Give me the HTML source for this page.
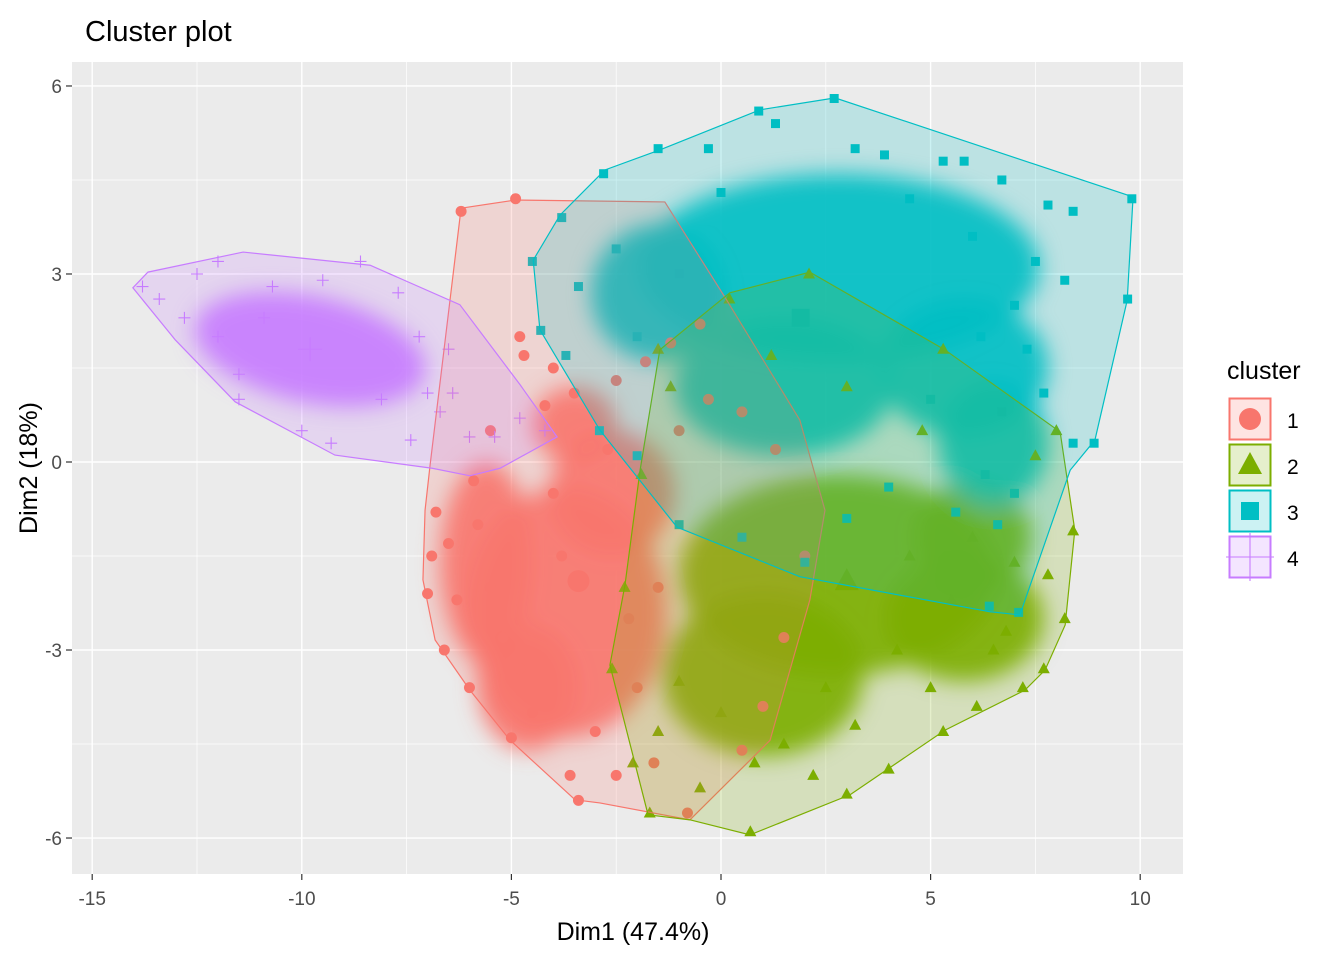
<!DOCTYPE html>
<html><head><meta charset="utf-8">
<style>
html,body{margin:0;padding:0;background:#fff;}
svg{display:block;font-family:"Liberation Sans",Arial,sans-serif;}
</style></head>
<body>
<svg id="chart" width="1344" height="960" viewBox="0 0 1344 960">
<defs><filter id="blur" x="-50%" y="-50%" width="200%" height="200%"><feGaussianBlur stdDeviation="11"/></filter></defs>
<text x="85" y="41" font-size="29" fill="#000">Cluster plot</text>
<rect x="72" y="62" width="1111" height="812" fill="#EBEBEB"/>
<g id="grid"></g>
<g id="cores" filter="url(#blur)"></g>
<g id="points"></g>
<g id="hulls"></g>
<g id="axes"></g>
<text x="633" y="940" font-size="25" text-anchor="middle">Dim1 (47.4%)</text>
<text transform="translate(37,468) rotate(-90)" font-size="25" text-anchor="middle">Dim2 (18%)</text>
<g id="legend">
<text x="1227" y="379" font-size="25">cluster</text>
</g>
<script>
const xTicks=[-15,-10,-5,0,5,10];
const yTicks=[-6,-3,0,3,6];
const clusterNames=["1","2","3","4"];
const colors=["#F8766D","#7CAE00","#00BFC4","#C77CFF"];
const hull1=[[-6.2,4.05],[-4.91,4.18],[-1.34,4.15],[0.14,2.58],[1.88,0.67],[2.48,-0.77],[2.12,-2.2],[1.17,-4.44],[-0.74,-5.71],[-2.89,-5.44],[-3.48,-5.39],[-5.03,-4.44],[-5.99,-3.64],[-6.82,-2.84],[-7.11,-1.88],[-7.06,-0.77],[-6.94,-0.05]];
const hull2=[[-1.46,1.79],[0.21,2.7],[2.12,3.03],[5.34,1.79],[8.09,0.48],[8.44,-1.09],[8.21,-2.6],[7.73,-3.32],[7.25,-3.64],[5.34,-4.28],[3.08,-5.31],[0.69,-5.95],[-0.74,-5.71],[-1.74,-5.63],[-2.65,-3.24],[-2.29,-1.96],[-1.93,-0.13]];
const hull3=[[-4.48,3.22],[-3.84,3.94],[-2.77,4.66],[-1.46,4.98],[0.93,5.62],[2.72,5.81],[9.83,4.23],[9.69,2.58],[8.92,0.35],[8.33,-0.13],[7.13,-2.44],[6.42,-2.39],[1.88,-1.83],[-1.05,-1.04],[-2.89,0.51],[-4.32,2.11]];
const hull4=[[-14.03,2.78],[-13.67,3.03],[-11.4,3.35],[-8.37,3.14],[-6.23,2.51],[-4.79,1.23],[-3.91,0.4],[-5.27,-0.1],[-5.99,-0.22],[-6.89,-0.1],[-9.21,0.11],[-11.59,0.96],[-13.02,1.95]];
const pts1=[[-6.2,4.0],[-4.9,4.2],[-4.8,2.0],[-4.7,1.7],[-4.0,1.5],[-3.5,1.1],[-2.5,1.3],[-1.8,1.6],[-1.2,1.9],[-0.5,2.2],[-4.2,0.9],[-5.5,0.5],[-6.8,-0.8],[-6.9,-1.5],[-7.0,-2.1],[-6.6,-3.0],[-6.0,-3.6],[-5.0,-4.4],[-3.6,-5.0],[-3.4,-5.4],[-2.5,-5.0],[-1.6,-4.8],[-0.8,-5.6],[0.5,-4.6],[1.0,-3.9],[1.5,-2.8],[2.0,-1.5],[1.3,0.2],[0.5,0.8],[-0.3,1.0],[-5.8,-1.0],[-6.3,-2.2],[-4.5,-4.0],[-2.0,-3.6],[-5.2,-2.8],[-3.0,-1.0],[-4.0,-0.5],[-1.5,-2.0],[-6.5,-1.3],[-5.5,-2.0],[-4.8,-3.3],[-3.0,-4.3],[-2.2,-2.5],[-3.8,-1.5],[-5.9,-0.3],[-2.7,0.2],[-1.0,0.5]];
const pts2=[[-1.5,1.8],[0.2,2.6],[2.1,3.0],[5.3,1.8],[8.0,0.5],[8.4,-1.1],[8.2,-2.5],[7.7,-3.3],[7.2,-3.6],[6.1,-3.9],[5.3,-4.3],[4.0,-4.9],[3.0,-5.3],[2.2,-5.0],[0.7,-5.9],[-0.5,-5.2],[-1.7,-5.6],[-2.1,-4.8],[-2.6,-3.3],[-2.3,-2.0],[-1.9,-0.2],[-1.2,1.2],[1.2,1.7],[3.0,1.2],[4.8,0.5],[7.5,0.1],[7.8,-1.8],[6.8,-2.7],[5.0,-3.6],[3.2,-4.2],[1.5,-4.5],[0.0,-4.0],[-1.0,-3.5],[4.5,-1.5],[6.0,-1.2],[6.5,-3.0],[4.2,-3.0],[2.5,-3.6],[0.8,-4.8],[-1.5,-4.3],[5.5,-2.2],[7.0,-1.6]];
const pts3=[[-4.5,3.2],[-3.8,3.9],[-2.8,4.6],[-1.5,5.0],[-0.3,5.0],[0.9,5.6],[1.3,5.4],[2.7,5.8],[3.2,5.0],[3.9,4.9],[5.3,4.8],[5.8,4.8],[6.7,4.5],[7.8,4.1],[8.4,4.0],[9.8,4.2],[9.7,2.6],[8.9,0.3],[8.4,0.3],[7.7,1.1],[7.3,1.8],[6.7,0.8],[6.3,-0.2],[6.6,-1.0],[7.1,-2.4],[6.4,-2.3],[5.6,-0.8],[7.0,-0.5],[4.0,-0.4],[3.0,-0.9],[2.0,-1.6],[0.5,-1.2],[-1.0,-1.0],[-2.0,0.1],[-2.9,0.5],[-3.7,1.7],[-4.3,2.1],[-3.4,2.8],[-2.5,3.4],[8.2,2.9],[7.5,3.2],[6.2,2.0],[5.0,1.0],[1.8,2.3],[6.0,3.6],[7.0,2.5],[-1.0,3.0],[-2.0,2.0],[4.5,4.2],[0.0,4.3]];
const pts4=[[-13.8,2.8],[-13.4,2.6],[-12.8,2.3],[-12.5,3.0],[-12.0,3.2],[-11.5,1.0],[-10.9,2.3],[-10.0,0.5],[-9.3,0.3],[-8.6,3.2],[-7.7,2.7],[-7.2,2.0],[-7.0,1.1],[-6.7,0.8],[-6.4,1.1],[-6.0,0.4],[-5.4,0.4],[-4.8,0.7],[-4.2,0.5],[-6.5,1.8],[-11.5,1.4],[-10.7,2.8],[-8.1,1.0],[-7.4,0.35],[-12.0,2.0],[-9.5,2.9]];
const core1=[[-3.7,-2.4,2.4,2.0,0],[-2.6,-0.5,1.5,1.0,0],[-5.6,-1.6,1.1,1.6,0],[-4.6,-3.6,1.2,1.0,0],[-3.5,0.6,1.0,0.6,0]];
const core2=[[2.8,-1.8,3.8,1.6,0],[1.0,-3.4,2.4,1.3,0],[5.8,-2.5,1.9,1.0,0],[6.0,-1.2,1.4,0.9,0]];
const core3=[[2.8,3.1,4.8,1.5,0],[1.5,1.2,2.6,1.1,0],[5.8,1.5,2.0,1.1,0],[-1.5,2.7,1.6,1.1,0],[6.5,0.3,1.3,1.0,0]];
const core4=[[-9.8,1.8,2.8,0.85,12]];
const centers=[[-3.4,-1.9],[3.0,-1.9],[1.9,2.3],[-9.8,1.8]];

const NS="http://www.w3.org/2000/svg";
const X0=721,XS=41.92,Y0=462,YS=62.67;
function sx(v){return X0+v*XS;}
function sy(v){return Y0-v*YS;}
function mk(tag,attrs,parent){const e=document.createElementNS(NS,tag);for(const k in attrs)e.setAttribute(k,attrs[k]);parent.appendChild(e);return e;}
const grid=document.getElementById('grid');
for(let v=-17.5;v<=12.5;v+=2.5){const px=sx(v);if(px<72||px>1183)continue;const major=Number.isInteger(v/5);
const l=mk('line',{x1:px,x2:px,y1:62,y2:874,stroke:'#fff','stroke-width':major?1.4:0.7},grid);

}
for(let v=-7.5;v<=7.5;v+=1.5){const py=sy(v);if(py<62||py>874)continue;const major=Math.abs(v/3-Math.round(v/3))<1e-9;
const l=mk('line',{x1:72,x2:1183,y1:py,y2:py,stroke:'#fff','stroke-width':major?1.4:0.7},grid);

}
const axes=document.getElementById('axes');
xTicks.forEach(t=>{const px=sx(t);
const l=mk('line',{x1:px,x2:px,y1:874,y2:880,stroke:'#333','stroke-width':1.2},axes);


const tx=mk('text',{x:px,y:905,'font-size':19,'text-anchor':'middle',fill:'#4D4D4D'},axes);tx.textContent=t;

});
yTicks.forEach(t=>{const py=sy(t);
const l=mk('line',{x1:66,x2:72,y1:py,y2:py,stroke:'#333','stroke-width':1.2},axes);


const tx=mk('text',{x:62,y:py+7,'font-size':19,'text-anchor':'end',fill:'#4D4D4D'},axes);tx.textContent=t;

});
const cores=document.getElementById('cores');
[core1,core2,core3,core4].forEach((cs,i)=>cs.forEach(c=>{
const e=mk('ellipse',{cx:sx(c[0]),cy:sy(c[1]),rx:c[2]*XS,ry:c[3]*YS,fill:colors[i],opacity:0.9,transform:`rotate(${c[4]} ${sx(c[0])} ${sy(c[1])})`},cores);

}));
const pg=document.getElementById('points');
function marker(i,x,y,s,parent){let e;
if(i===0)e=mk('circle',{cx:x,cy:y,r:s*0.55,fill:colors[0]},parent);
else if(i===1)e=mk('polygon',{points:`${x},${y-s*0.65} ${x-s*0.6},${y+s*0.45} ${x+s*0.6},${y+s*0.45}`,fill:colors[1]},parent);
else if(i===2)e=mk('rect',{x:x-s*0.45,y:y-s*0.45,width:s*0.9,height:s*0.9,fill:colors[2]},parent);
else e=mk('path',{d:`M${x-s*0.6},${y}H${x+s*0.6}M${x},${y-s*0.6}V${y+s*0.6}`,stroke:colors[3],'stroke-width':1.1,fill:'none'},parent);
return e;}
[pts1,pts2,pts3,pts4].forEach((ps,i)=>ps.forEach(p=>{
const e=marker(i,sx(p[0]),sy(p[1]),10,pg);

}));
centers.forEach((c,i)=>{const e=marker(i,sx(c[0]),sy(c[1]),20,pg);

});
const hg=document.getElementById('hulls');
[hull1,hull2,hull3,hull4].forEach((h,i)=>{
const p=mk('polygon',{points:h.map(q=>sx(q[0])+','+sy(q[1])).join(' '),fill:colors[i],'fill-opacity':0.2,stroke:colors[i],'stroke-width':1.2},hg);

});
const lg=document.getElementById('legend');
clusterNames.forEach((n,i)=>{const y=398+i*46;
const g=mk('g',{},lg);


mk('rect',{x:1229.5,y:y+0.5,width:41,height:41,fill:colors[i],'fill-opacity':0.2,stroke:colors[i],'stroke-width':2},g);
marker(i,1250,y+21,i===3?40:20,g);
const t=mk('text',{x:1287,y:y+30,'font-size':21},g);t.textContent=n;});
</script>
</svg>
</body></html>
